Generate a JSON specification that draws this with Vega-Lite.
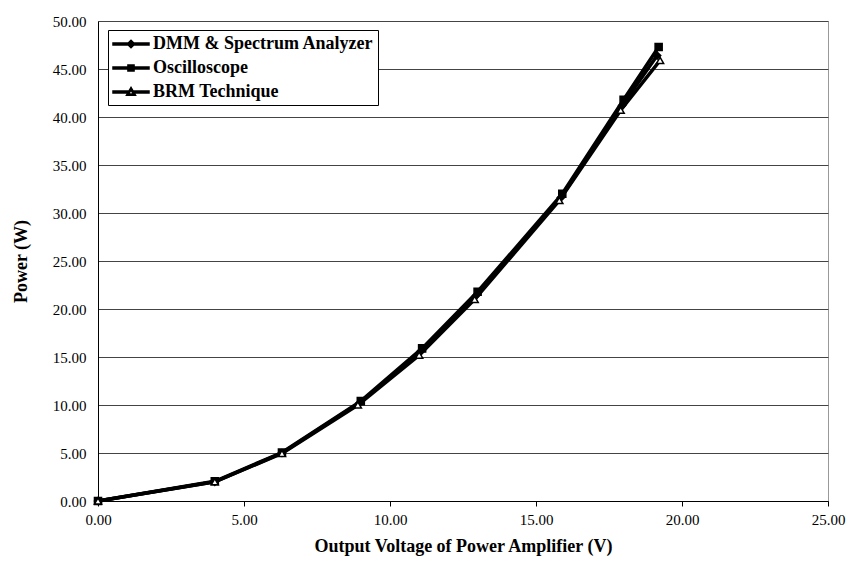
{
  "$schema": "https://vega.github.io/schema/vega-lite/v6.json",
  "width": 730,
  "height": 480,
  "autosize": {"type": "none"},
  "padding": {"left": 98, "top": 21, "right": 23, "bottom": 66},
  "background": "white",
  "config": {
    "font": "Liberation Serif",
    "view": {"stroke": "#999999", "strokeWidth": 1}
  },
  "data": {
    "values": [
      {"series": "DMM & Spectrum Analyzer", "v": 0, "p": 0},
      {"series": "DMM & Spectrum Analyzer", "v": 4.0, "p": 2.0},
      {"series": "DMM & Spectrum Analyzer", "v": 6.3, "p": 5.0},
      {"series": "DMM & Spectrum Analyzer", "v": 8.95, "p": 10.2},
      {"series": "DMM & Spectrum Analyzer", "v": 11.05, "p": 15.6},
      {"series": "DMM & Spectrum Analyzer", "v": 12.95, "p": 21.4},
      {"series": "DMM & Spectrum Analyzer", "v": 15.85, "p": 31.6},
      {"series": "DMM & Spectrum Analyzer", "v": 17.95, "p": 41.2},
      {"series": "DMM & Spectrum Analyzer", "v": 19.15, "p": 46.4},
      {"series": "Oscilloscope", "v": 0, "p": 0},
      {"series": "Oscilloscope", "v": 4.0, "p": 2.05},
      {"series": "Oscilloscope", "v": 6.3, "p": 5.05},
      {"series": "Oscilloscope", "v": 9.0, "p": 10.4},
      {"series": "Oscilloscope", "v": 11.1, "p": 15.9},
      {"series": "Oscilloscope", "v": 13.0, "p": 21.8},
      {"series": "Oscilloscope", "v": 15.9, "p": 32.0},
      {"series": "Oscilloscope", "v": 18.0, "p": 41.8},
      {"series": "Oscilloscope", "v": 19.2, "p": 47.3},
      {"series": "BRM Technique", "v": 0, "p": 0},
      {"series": "BRM Technique", "v": 4.0, "p": 2.0},
      {"series": "BRM Technique", "v": 6.3, "p": 4.95},
      {"series": "BRM Technique", "v": 8.9, "p": 10.0},
      {"series": "BRM Technique", "v": 11.0, "p": 15.2},
      {"series": "BRM Technique", "v": 12.9, "p": 21.0},
      {"series": "BRM Technique", "v": 15.8, "p": 31.3},
      {"series": "BRM Technique", "v": 17.9, "p": 40.7},
      {"series": "BRM Technique", "v": 19.25, "p": 45.9}
    ]
  },
  "encoding": {
    "x": {
      "field": "v",
      "type": "quantitative",
      "scale": {"domain": [0, 25], "nice": false},
      "axis": {
        "title": "Output Voltage of Power Amplifier (V)",
        "values": [0, 5, 10, 15, 20, 25],
        "format": ".2f",
        "grid": false,
        "labelFlush": false,
        "domainColor": "black",
        "tickColor": "black",
        "tickSize": 5,
        "labelFontSize": 15,
        "labelColor": "black",
        "labelPadding": 6,
        "titleFontSize": 18,
        "titleFontWeight": "bold",
        "titleColor": "black",
        "titlePadding": 10
      }
    },
    "y": {
      "field": "p",
      "type": "quantitative",
      "scale": {"domain": [0, 50], "nice": false},
      "axis": {
        "title": "Power (W)",
        "values": [0, 5, 10, 15, 20, 25, 30, 35, 40, 45, 50],
        "format": ".2f",
        "grid": true,
        "labelFlush": false,
        "gridColor": "#444444",
        "gridWidth": 1,
        "gridOpacity": 1,
        "domainColor": "black",
        "ticks": false,
        "labelFontSize": 15,
        "labelColor": "black",
        "labelPadding": 12,
        "titleFontSize": 18,
        "titleFontWeight": "bold",
        "titleColor": "black",
        "titlePadding": 22
      }
    }
  },
  "layer": [
    {
      "mark": {"type": "line", "strokeWidth": 3.5, "color": "black"},
      "encoding": {"detail": {"field": "series"}}
    },
    {
      "mark": {"type": "point", "stroke": "black", "strokeWidth": 1.5, "size": 50, "opacity": 1},
      "encoding": {
        "shape": {
          "field": "series",
          "type": "nominal",
          "scale": {
            "domain": ["DMM & Spectrum Analyzer", "Oscilloscope", "BRM Technique"],
            "range": ["diamond", "square", "triangle-up"]
          },
          "legend": null
        },
        "fill": {
          "field": "series",
          "type": "nominal",
          "scale": {
            "domain": ["DMM & Spectrum Analyzer", "Oscilloscope", "BRM Technique"],
            "range": ["black", "black", "white"]
          },
          "legend": null
        }
      }
    },
    {
      "mark": {"type": "point", "filled": false, "stroke": "black", "strokeWidth": 2, "size": 0, "opacity": 1},
      "encoding": {
        "shape": {
          "field": "series",
          "type": "nominal",
          "scale": {
            "domain": ["DMM & Spectrum Analyzer", "Oscilloscope", "BRM Technique"],
            "range": [
              "M-1,-0.11H3V0.11H-1Z M1,-0.42L1.42,0L1,0.42L0.58,0Z",
              "M-1,-0.11H3V0.11H-1Z M0.66,-0.34H1.34V0.34H0.66Z",
              "M-1,-0.11H0.72V0.11H-1Z M1.28,-0.11H3V0.11H1.28Z M1,-0.5L1.5,0.35L0.5,0.35Z M1,-0.22L0.72,0.22L1.28,0.22Z"
            ]
          },
          "legend": {
            "orient": "none",
            "legendX": 10,
            "legendY": 9,
            "title": null,
            "strokeColor": "black",
            "fillColor": "white",
            "padding": 4,
            "labelFontSize": 18,
            "labelFontWeight": "bold",
            "labelColor": "black",
            "labelLimit": 400,
            "labelOffset": 21,
            "symbolSize": 324,
            "symbolFillColor": "black",
            "symbolOpacity": 1,
            "rowPadding": 5
          }
        },
        "fill": {
          "field": "series",
          "type": "nominal",
          "scale": {
            "domain": ["DMM & Spectrum Analyzer", "Oscilloscope", "BRM Technique"],
            "range": ["black", "black", "black"]
          },
          "legend": null
        }
      }
    }
  ],
  "resolve": {"scale": {"shape": "independent", "fill": "independent"}}
}
